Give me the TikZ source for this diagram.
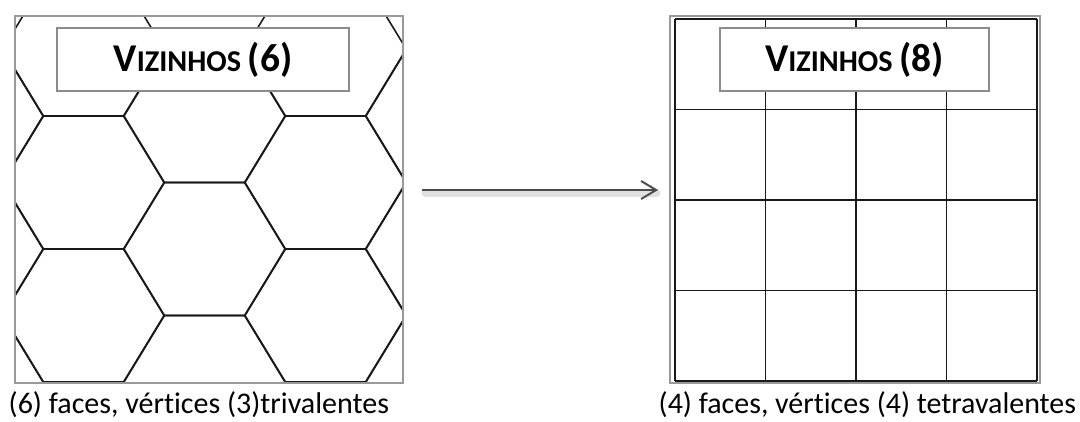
\documentclass[tikz,border=0pt]{standalone}
\usepackage{fontspec}
\setmainfont{Carlito}[Ligatures={NoCommon,NoContextual,NoRare}]
\usetikzlibrary{arrows.meta}

\newcommand{\vizinhos}[1]{{\bfseries\fontsize{11.2}{13}\selectfont V\fontsize{8.6}{10}\selectfont IZINHOS \fontsize{11.2}{13}\selectfont(#1)}}

\tikzset{
  frame/.style={draw=black!40, line width=0.55pt},
  cell/.style={draw=black!90, line width=0.45pt},
  titlebox/.style={draw=black!45, line width=0.5pt, fill=white, minimum height=0.63cm, inner sep=0pt},
  caption/.style={anchor=base west, inner sep=0pt, font=\fontsize{9}{11}\selectfont}
}

\begin{document}
\begin{tikzpicture}[x=0.01cm, y=-0.01cm]
\useasboundingbox (0,0) rectangle (1080,421);

% Hexagons
\begin{scope}
\clip (15,16) rectangle (403,383);
\foreach \cx/\dy in {-37.5/66.5, 83.5/0, 204.5/66.5, 325.5/0, 446.5/66.5}
  \foreach \j in {-1,...,3} {
    \pgfmathsetmacro{\cy}{182.5+\dy+133*\j}
    \draw[cell] ({\cx-81},\cy) -- ({\cx-40.5},{\cy-66.5}) -- ({\cx+40.5},{\cy-66.5})
      -- ({\cx+81},\cy) -- ({\cx+40.5},{\cy+66.5}) -- ({\cx-40.5},{\cy+66.5}) -- cycle;
  }
\end{scope}
\draw[frame] (15,16) rectangle (403,383);
\node[titlebox, minimum width=2.92cm] (hextitle) at (203,59.5) {\vizinhos{6}};
\node[caption] (hexcaption) at (8,413) {\resizebox{3.8cm}{!}{(6) faces, vértices (3)trivalentes}};

% Squares
\draw[frame] (670,16) rectangle (1040,383);
\foreach \k in {0,...,4} {
  \draw[cell] ({675+90.5*\k},19) -- ({675+90.5*\k},381);
  \draw[cell] (675,{19+90.5*\k}) -- (1037,{19+90.5*\k});
}
\node[titlebox, minimum width=2.69cm] (sqtitle) at (854.5,59.5) {\vizinhos{8}};
\node[caption] (sqcaption) at (658,413) {\resizebox{4.17cm}{!}{(4) faces, vértices (4) tetravalentes}};

% Arrow
\coordinate (arrowstart) at (422,190);
\coordinate (arrowend) at (658,190);
\draw[black!12, line width=2pt, line cap=round] ([shift={(3,3)}]arrowstart) -- ([shift={(-1,3)}]arrowend);
\draw[black!70, line width=0.55pt, -{Straight Barb[length=1.5mm, width=1.8mm]}] (arrowstart) -- (arrowend);
\end{tikzpicture}
\end{document}
